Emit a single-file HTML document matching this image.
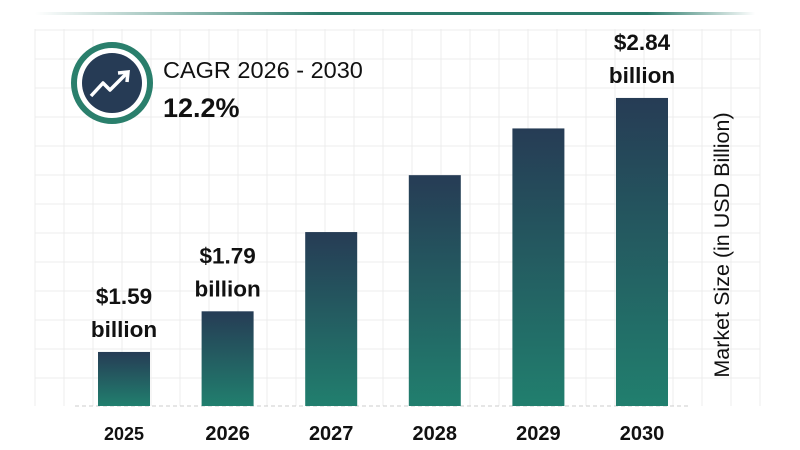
<!DOCTYPE html>
<html><head><meta charset="utf-8"><style>
body{margin:0;background:#fff;font-family:"Liberation Sans",sans-serif}
svg{display:block}
</style></head><body>
<svg id="c" width="800" height="450">
<defs>
<linearGradient id="bg" x1="0" y1="0" x2="0" y2="1"><stop offset="0" stop-color="#263c55"/><stop offset="1" stop-color="#217f6e"/></linearGradient>
<linearGradient id="tl" x1="0" y1="0" x2="1" y2="0"><stop offset="0" stop-color="#fff"/><stop offset="0.4" stop-color="#2a7a6a"/><stop offset="0.85" stop-color="#2a7a6a"/><stop offset="1" stop-color="#fff"/></linearGradient>
</defs>
<rect x="35" y="12" width="720" height="3" fill="url(#tl)"/>
<g id="grid"></g>
<line x1="75" y1="406" x2="690" y2="406" stroke="#ccc" stroke-dasharray="4,3"/>
<g id="bars"></g>
<g>
<circle cx="112" cy="83" r="38" fill="#fff" stroke="#2a7f6c" stroke-width="6"/>
<circle cx="112" cy="83" r="30" fill="#263b55"/>
<polyline points="91,96 103,83 110,90 127,73" fill="none" stroke="#fff" stroke-width="3.5" stroke-linejoin="round"/>
<polyline points="118,73 128,72 127,82" fill="none" stroke="#fff" stroke-width="3.5"/>
<text x="163" y="78" font-size="23.5" fill="#111">CAGR 2026 - 2030</text>
<text x="163" y="117" font-size="27" font-weight="bold" fill="#111">12.2%</text>
</g>
<text transform="translate(729,245) rotate(-90)" text-anchor="middle" font-size="21.5" fill="#111">Market Size (in USD Billion)</text>
</svg>
<script>
const years=["2025","2026","2027","2028","2029","2030"];
const values=[1.59,1.79,2.18,2.46,2.69,2.84];
const labels=["$1.59","$1.79","","","","$2.84"];
const NS="http://www.w3.org/2000/svg";
const base=406, vMin=1.324, scale=203.2;
function y(v){return base-(v-vMin)*scale;}
function xc(i){return 124+i*103.6;}
function mk(t,a,p){const e=document.createElementNS(NS,t);for(const k in a)e.setAttribute(k,a[k]);p.appendChild(e);return e;}
const g=document.getElementById('grid');
for(let x=35;x<=760;x+=29){const l=mk('line',{x1:x,y1:29,x2:x,y2:406,stroke:'#ececec'},g);

}
for(let yy=30;yy<=406;yy+=29){const l=mk('line',{x1:35,y1:yy,x2:760,y2:yy,stroke:'#ececec'},g);

}
const b=document.getElementById('bars');
values.forEach((v,i)=>{
const top=y(v);
const r=mk('rect',{x:xc(i)-26,y:top,width:52,height:base-top,fill:'url(#bg)'},b);


const t=mk('text',{x:xc(i),y:440,'text-anchor':'middle','font-size':(i==0?18:20),'font-weight':'bold',fill:'#111'},b);t.textContent=years[i];


if(labels[i]){
const a=mk('text',{x:xc(i),y:top-48,'text-anchor':'middle','font-size':22.5,'font-weight':'bold',fill:'#111'},b);a.textContent=labels[i];


const c=mk('text',{x:xc(i),y:top-15,'text-anchor':'middle','font-size':22.5,'font-weight':'bold',fill:'#111'},b);c.textContent='billion';

}
});
</script>
</body></html>
